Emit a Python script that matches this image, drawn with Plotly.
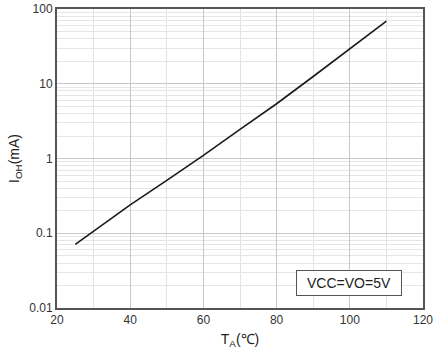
import plotly.graph_objects as go

temp_c = [25, 30, 40, 50, 60, 70, 80, 90, 100, 110]
ioh_ma = [0.071, 0.107, 0.24, 0.51, 1.1, 2.45, 5.4, 12.5, 29.5, 69]

x_ticks = [20, 40, 60, 80, 100, 120]
y_ticks = [0.01, 0.1, 1, 10, 100]
y_tick_text = ["0.01", "0.1", "1", "10", "100"]
note_text = "VCC=VO=5V"

minor_y = [m * 10 ** e for e in range(-2, 2) for m in range(2, 10)]

fig = go.Figure()
fig.add_trace(go.Scatter(x=temp_c, y=ioh_ma, mode="lines",
                         line=dict(color="#1a1a1a", width=1.6), showlegend=False))

font = dict(family="Liberation Sans, Arial, sans-serif", size=12, color="#333")

fig.update_layout(
    width=433, height=355,
    margin=dict(l=57, r=10, t=9, b=47),
    paper_bgcolor="white", plot_bgcolor="white",
    font=font,
    xaxis=dict(range=[20, 120], tickvals=x_ticks, showgrid=True, gridcolor="#c8c8c8", gridwidth=1,
               minor=dict(dtick=10, tick0=20, showgrid=True, gridcolor="#e2e2e2", gridwidth=1, ticks=""),
               showline=True, linecolor="#555", linewidth=2, mirror=True, ticks="", zeroline=False,
               automargin=False, ticklabeloverflow="allow",
               title=dict(text="T<sub>A</sub>(℃)", font=dict(size=14, color="#222"), standoff=8)),
    yaxis=dict(type="log", range=[-2, 2], tickvals=y_ticks, ticktext=y_tick_text,
               showgrid=True, gridcolor="#c8c8c8", gridwidth=1,
               minor=dict(tickvals=minor_y, showgrid=True, gridcolor="#e6e6e6", gridwidth=1, ticks=""),
               showline=True, linecolor="#555", linewidth=2, mirror=True, ticks="", zeroline=False,
               automargin=False, ticklabeloverflow="allow",
               title=dict(text="I<sub>OH</sub>(mA)", font=dict(size=14, color="#222"), standoff=6)),
    annotations=[dict(x=0.799, y=0.082, xref="paper", yref="paper", xanchor="center", yanchor="middle",
                      text=note_text, showarrow=False, font=dict(size=14, color="#222"),
                      bordercolor="#555", borderwidth=1, borderpad=4, bgcolor="white",
                      width=96, height=16)],
)

fig.write_html("out.html")
